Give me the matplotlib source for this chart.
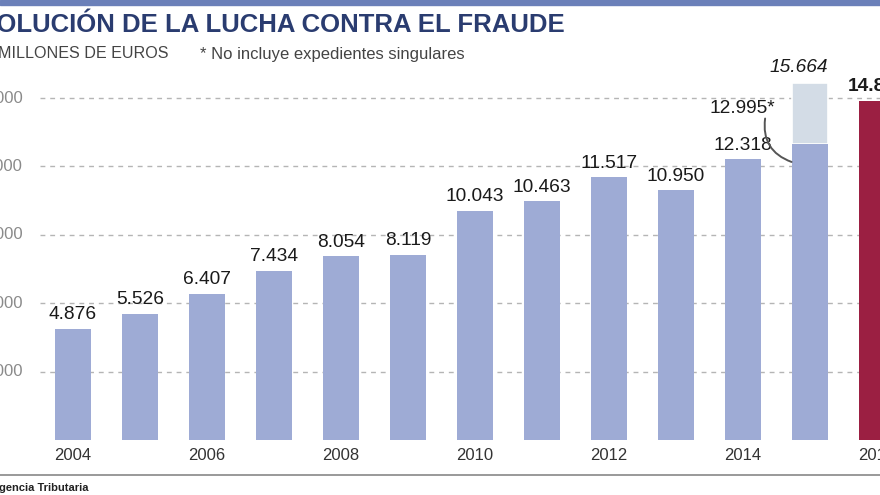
import matplotlib
matplotlib.use("Agg")
import matplotlib.pyplot as plt

years = [2004, 2005, 2006, 2007, 2008, 2009, 2010, 2011, 2012, 2013, 2014, 2015, 2016]
values = [4876, 5526, 6407, 7434, 8054, 8119, 10043, 10463, 11517, 10950, 12318, 12995, 14882]
labels = ["4.876", "5.526", "6.407", "7.434", "8.054", "8.119", "10.043", "10.463",
          "11.517", "10.950", "12.318", "12.995*", "14.882"]
total_2015 = 15664
total_2015_label = "15.664"
yticks = [3000, 6000, 9000, 12000, 15000]
ytick_labels = ["3.000", "6.000", "9.000", "12.000", "15.000"]
xtick_years = [2004, 2006, 2008, 2010, 2012, 2014, 2016]

plt.rcParams['font.family'] = ['Liberation Sans', 'DejaVu Sans']

W, H = 880, 495
fig = plt.figure(figsize=(W / 100, H / 100), dpi=100)
fig.patch.set_facecolor("white")

# axes placement in pixels
base_px = 440
top_px = 60
px_per_unit = 22.8 / 1000
x0_px, step_px = 73, 67
ax = fig.add_axes([0, (H - base_px) / H, 1, (base_px - top_px) / H])
xmin = years[0] - x0_px / step_px
xmax = years[0] + (W - x0_px) / step_px
ax.set_xlim(xmin, xmax)
ax.set_ylim(0, (base_px - top_px) / px_per_unit)
ax.axis("off")

bar_blue = "#9eabd5"
bar_light = "#d3dce6"
bar_red = "#9b1f42"
width = 0.55
label_size = 13.8

# gridlines
grid_start = xmin + 40 / step_px
for yv, yl in zip(yticks, ytick_labels):
    ax.plot([grid_start, xmax], [yv, yv], color="#b5b5b5", lw=1.0,
            linestyle=(0, (3.5, 3.5)), zorder=1)
    ax.text(xmin + 23 / step_px, yv, yl, ha="right", va="center",
            fontsize=12, color="#8a8a8a")

colors = [bar_blue] * (len(years) - 1) + [bar_red]
# 2015 extra (including singular cases)
ax.bar(2015, total_2015 - values[-2], bottom=values[-2], width=width,
       color=bar_light, edgecolor="white", linewidth=1.2, zorder=2)
ax.bar(years, values, width=width, color=colors, zorder=3)

for yr, v, lab in zip(years, values, labels):
    if yr == 2015:
        continue
    weight = "bold" if yr == 2016 else "normal"
    ax.annotate(lab, (yr, v), xytext=(0, 4), textcoords="offset points",
                ha="center", va="bottom", fontsize=label_size, color="#1a1a1a",
                fontweight=weight, annotation_clip=False)

ax.annotate(total_2015_label, (2015, total_2015), xytext=(-8, 5),
            textcoords="offset points", ha="center", va="bottom",
            fontsize=label_size, color="#1a1a1a", style="italic",
            annotation_clip=False)

ax.text(2014.48, 14560, labels[-2], ha="right", va="center",
        fontsize=label_size, color="#1a1a1a")
ax.annotate("", xy=(2015 - width / 2, values[-2] - 800),
            xytext=(2014.33, 14100),
            arrowprops=dict(arrowstyle="-", color="#555555", lw=1.4,
                            connectionstyle="arc3,rad=0.4",
                            shrinkA=0, shrinkB=0))

for yr in xtick_years:
    ax.text(yr, -370, str(yr), ha="center", va="top", fontsize=12,
            color="#333333")

# top stripe
fig.patches.append(plt.Rectangle((0, 1 - 5 / H), 1, 5 / H, transform=fig.transFigure,
                                 color="#6b80b9", zorder=0))
# title & subtitles
fig.text(565 / W, 1 - 25 / H, "EVOLUCIÓN DE LA LUCHA CONTRA EL FRAUDE", ha="right",
         va="center", fontsize=18.5, fontweight="bold", color="#2a3c70")
fig.text(168 / W, 1 - 54 / H, "EN MILLONES DE EUROS", ha="right", va="center",
         fontsize=11.6, color="#444444")
fig.text(200 / W, 1 - 54 / H, "* No incluye expedientes singulares", ha="left",
         va="center", fontsize=12, color="#444444")

# bottom rule and source
fig.add_artist(plt.Line2D([0, 1], [1 - 475 / H, 1 - 475 / H], transform=fig.transFigure,
                          color="#888888", lw=1.2))
fig.text(88 / W, 1 - 488 / H, "Fuente: Agencia Tributaria", ha="right", va="center",
         fontsize=8, fontweight="bold", color="#222222")

fig.savefig("out.png", dpi=100)
